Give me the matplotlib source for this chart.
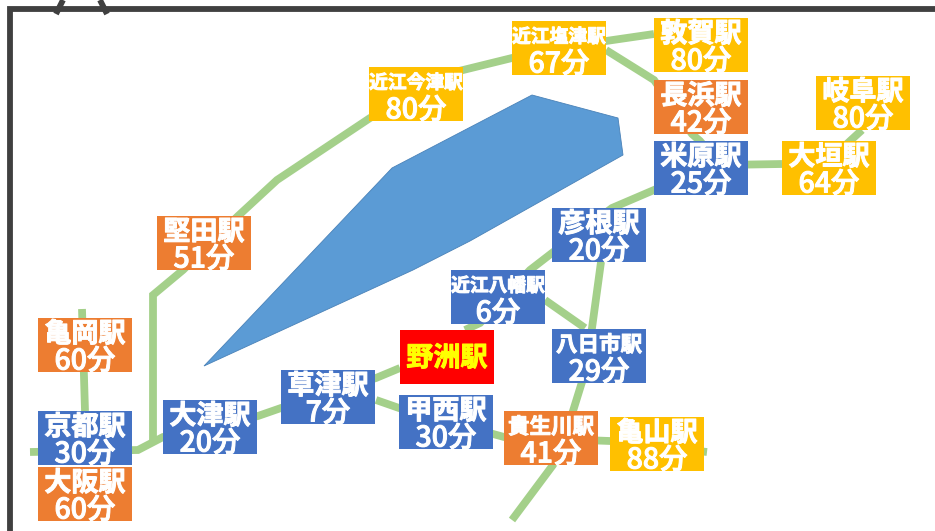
import matplotlib
matplotlib.use('Agg')
import matplotlib.pyplot as plt
import matplotlib.patheffects as pe
from matplotlib.patches import Polygon, Rectangle

plt.rcParams['font.family'] = ['Noto Sans CJK JP', 'DejaVu Sans']

# station names and minutes to 野洲駅
stations = ['近江今津駅', '堅田駅', '近江塩津駅', '敦賀駅', '長浜駅', '米原駅', '大垣駅', '岐阜駅',
            '彦根駅', '亀岡駅', '京都駅', '大阪駅', '大津駅', '草津駅', '甲西駅',
            '近江八幡駅', '八日市駅', '貴生川駅', '亀山駅']
minutes = [80, 51, 67, 80, 42, 25, 64, 80, 20, 60, 30, 60, 20, 7, 30, 6, 29, 41, 88]
groups = ['far', 'mid', 'far', 'far', 'mid', 'near', 'far', 'far',
          'near', 'mid', 'near', 'mid', 'near', 'near', 'near',
          'near', 'near', 'mid', 'far']
center = '野洲駅'

# layout, in picture pixels
box_x = [369, 157, 512, 654, 654, 654, 782, 816, 552, 38, 38, 38, 163, 281, 399, 451, 552, 504, 610]
box_y = [67, 216, 21, 18, 80, 141, 141, 76, 208, 318, 411, 467, 400, 370, 395, 270, 329, 411, 417]
box_w, box_h = 94, 54
center_xy = (400, 330)

rail_paths = [
    [(30, 452), (138, 450), (163, 437), (210, 427), (258, 416), (281, 408), (376, 378), (400, 368)],
    [(376, 400), (399, 408), (504, 437), (610, 441), (707, 452)],
    [(153, 443), (153, 295), (183, 270), (238, 216), (277, 180), (370, 118), (455, 72), (512, 58),
     (560, 48), (606, 41), (654, 34)],
    [(606, 50), (654, 80), (692, 134), (700, 141), (720, 165), (782, 164)],
    [(830, 160), (850, 141), (862, 130)],
    [(700, 170), (654, 190), (612, 208), (552, 253), (530, 270), (480, 323), (465, 330)],
    [(545, 300), (585, 328)],
    [(604, 240), (592, 328), (582, 382), (573, 411), (553, 465), (512, 520)],
    [(82, 309), (85, 411)],
]
lake = [(204, 366), (392, 168), (532, 95), (618, 118), (623, 155), (470, 241), (413, 270)]
frame = [(10, 531), (10, 9), (935, 9)]
mark_left = [(56, 14), (63, 0)]
mark_right = [(107, 14), (100, 0)]

colors = {'near': '#4472C4', 'mid': '#ED7D31', 'far': '#FFC000'}


def name_size(name):
    if len(name) >= 5:
        return 13.5
    if len(name) == 4:
        return 15.5
    return 19.5


thick = [pe.withStroke(linewidth=0.7, foreground='white')]

fig = plt.figure(figsize=(9.35, 5.31), dpi=100)
ax = fig.add_axes([0, 0, 1, 1])
ax.set_xlim(0, 935)
ax.set_ylim(531, 0)
ax.axis('off')

for path in rail_paths:
    ax.plot([p[0] for p in path], [p[1] for p in path], color='#A4D08A', lw=5.6,
            solid_capstyle='butt', solid_joinstyle='miter', zorder=1)

ax.add_patch(Polygon(lake, closed=True, facecolor='#5B9BD5', edgecolor='#4A82B8', lw=0.6, zorder=1))

for path in [frame, mark_left, mark_right]:
    ax.plot([p[0] for p in path], [p[1] for p in path], color='#404040', lw=4.2,
            solid_capstyle='butt', solid_joinstyle='miter', zorder=3)

for name, minute, group, x, y in zip(stations, minutes, groups, box_x, box_y):
    box = Rectangle((x, y), box_w, box_h, facecolor=colors[group], edgecolor='none', zorder=2)
    ax.add_patch(box)
    t1 = ax.text(x + box_w / 2, y + 16, name, color='white', fontsize=name_size(name), fontweight='bold',
                 ha='center', va='center', zorder=4, path_effects=thick)
    t2 = ax.text(x + box_w / 2, y + 43, f'{minute}分', color='white', fontsize=20.5, fontweight='medium',
                 ha='center', va='center', zorder=4, path_effects=thick)
    t1.set_clip_path(box)
    t2.set_clip_path(box)

ax.add_patch(Rectangle(center_xy, box_w, box_h, facecolor='#FF0000', edgecolor='none', zorder=2))
ax.text(center_xy[0] + box_w / 2, center_xy[1] + box_h / 2 + 1, center, color='#FFFF00', fontsize=19.5,
        fontweight='bold', ha='center', va='center', zorder=4,
        path_effects=[pe.withStroke(linewidth=0.7, foreground='#FFFF00')])

fig.savefig('out.png', dpi=100)
